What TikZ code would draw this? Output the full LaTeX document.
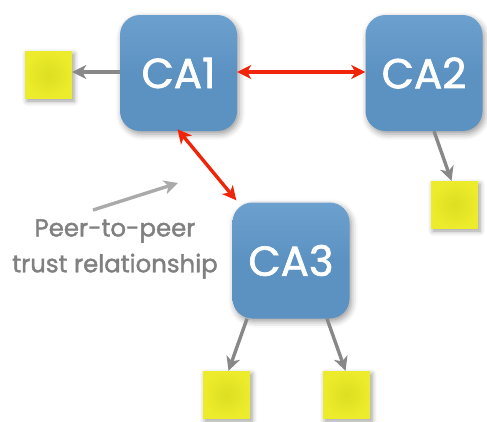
\documentclass[tikz,border=0pt]{standalone}
\usepackage{fontspec}
\setmainfont{Poppins}[FakeBold=1.6]
\usetikzlibrary{arrows.meta,shadows.blur}
\definecolor{caBlue}{RGB}{92,146,194}
\definecolor{caBlueTop}{RGB}{108,160,206}
\definecolor{leafYel}{RGB}{222,222,34}
\definecolor{leafYelEdge}{RGB}{236,236,44}
\definecolor{trustRed}{RGB}{240,36,8}
\definecolor{linkGray}{RGB}{136,136,136}
\definecolor{noteGray}{RGB}{170,170,170}
\definecolor{labelGray}{RGB}{128,128,128}
\tikzset{
  ca/.style={rounded corners=20bp, minimum width=117bp, minimum height=116bp,
    inner sep=0pt, top color=caBlueTop, bottom color=caBlue, middle color=caBlue,
    text=white, font=\fontsize{42}{42}\selectfont,
    blur shadow={shadow xshift=2bp, shadow yshift=-3bp, shadow blur radius=6bp, shadow opacity=40}},
  leaf/.style={minimum size=47bp, inner sep=0pt, inner color=leafYel, outer color=leafYelEdge,
    blur shadow={shadow xshift=2bp, shadow yshift=-3bp, shadow blur radius=5bp, shadow opacity=40}},
  trust/.style={draw=trustRed, line width=3.4bp,
    {Stealth[length=14bp,width=14bp,inset=4bp]}-{Stealth[length=14bp,width=14bp,inset=4bp]}},
  issue/.style={draw=linkGray, line width=3.4bp, -{Stealth[length=14bp,width=14bp,inset=4bp]}},
  pointer/.style={draw=noteGray, line width=3.4bp, -{Stealth[length=14bp,width=14bp,inset=4bp]}},
  note/.style={text=labelGray, align=center, font=\fontsize{24.5}{36}\selectfont, inner sep=0pt}
}
\begin{document}
\begin{tikzpicture}[x=1bp,y=-1bp]
\useasboundingbox (0,0) rectangle (487,421);
% certificate authorities
\node[ca] (ca1) at (178.5,73) {CA1};
\node[ca] (ca2) at (424,73) {CA2};
\node[ca] (ca3) at (291,260.5) {CA3};
% issued certificates
\node[leaf] (l1) at (48.5,74.5) {};
\node[leaf] (l2) at (454.5,204.5) {};
\node[leaf] (l3) at (226.5,394.5) {};
\node[leaf] (l4) at (346.5,394.5) {};
% issuing links
\draw[issue] (ca1.west |- 0,72) -- (l1.east |- 0,72);
\draw[issue] ([xshift=10bp]ca2.south) -- ([xshift=-3bp]l2.north);
\draw[issue] ([xshift=-44bp]ca3.south) -- ([xshift=2bp]l3.north);
\draw[issue] ([xshift=36bp]ca3.south) -- ([xshift=-1bp]l4.north);
% peer trust
\draw[trust] (ca1.east |- 0,72) -- (ca2.west |- 0,72);
\draw[trust] ([xshift=-1bp,yshift=2bp]ca1.south) -- ([xshift=4bp,yshift=2bp]ca3.north west);
% annotation
\coordinate (ptail) at (93,210);
\coordinate (phead) at (178,183);
\draw[pointer] (ptail) -- (phead);
\node[note] (lbl) at (115,249) {Peer-to-peer\\trust relationship};
\end{tikzpicture}
\end{document}
